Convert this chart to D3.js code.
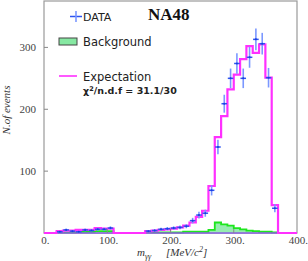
<!DOCTYPE html>
<html>
<head>
<meta charset="utf-8">
<script src="https://cdn.jsdelivr.net/npm/d3@7"></script>
<style>
  body { margin:0; background:#fff; }
  svg { display:block; }
</style>
</head>
<body>
<div id="chart"></div>
<script>
// m_gg spectrum, 10 MeV bins (bin lower edge)
var binStart   = [20,30,40,50,60,70,80,90,100,
                  160,170,180,190,200,210,220,230,240,250,260,270,280,290,300,310,320,330,340,350,360];
var dataCounts = [2,5,3,2,5,4,6,6,8,
                  3,4,6,7,8,9,11,20,29,32,69,139,209,250,274,250,284,313,306,251,40];
var dataErrors = [1.4,2.2,1.7,1.4,2.2,2,2.4,2.4,2.8,
                  1.7,2,2.4,2.6,2.8,3,3.3,4.5,5.4,5.7,8.3,11.8,14.5,15.8,16.6,15.8,16.9,17.7,17.5,15.8,6.3];
var expectation = [3,4,4,5,5,5,8,7,7,
                   3,4,5,6,7,9,12,17,26,36,76,155,189,232,256,281,302,291,305,251,45];
var background  = [1,1,1,2,2,2,3,3,3,
                   1,1,1,1,1,1,2,2,2,2,5,17,14,12,8,6,4,3,2,2,1];
var BIN_WIDTH = 10;

var xTicks = [0,100,200,300,400];
var yTicks = [100,200,300];

var W = 308, H = 261;
var svg = d3.select("#chart").append("svg").attr("width",W).attr("height",H);

var x = d3.scaleLinear().domain([0,400]).range([44,297]);
var y = d3.scaleLinear().domain([0,375]).range([233,1]);

var SERIF = "'Liberation Serif','DejaVu Serif',serif";
var SANS = "'DejaVu Sans',sans-serif";

// step points over the full range, zero in the gaps
function stepPoints(vals){
	var pts = [[0,0]];
	var _end = 0;
	binStart.forEach(function(s,i){
		if (s!=_end) pts.push([_end,0]);
		pts.push([s,vals[i]]);
		_end = s+BIN_WIDTH;
	});
	pts.push([_end,0]);
	pts.push([400,0]);
	return pts;
}

// frame
svg.append("rect")
	.attr("x",x(0)).attr("y",y(375))
	.attr("width",x(400)-x(0)).attr("height",y(0)-y(375))
	.style("fill","white").style("stroke","#9a9a9a").style("stroke-width",1.2);

// background histogram
var bgPts = stepPoints(background);
svg.append("path")
	.datum(bgPts)
	.attr("d",d3.area().curve(d3.curveStepAfter)
		.x(function(d){return x(d[0]);}).y0(y(0)).y1(function(d){return y(d[1]);}))
	.style("fill","#96ecb0");
svg.append("path")
	.datum(bgPts)
	.attr("d",d3.line().curve(d3.curveStepAfter)
		.x(function(d){return x(d[0]);}).y(function(d){return y(d[1]);}))
	.style("fill","none").style("stroke","#1ee61e").style("stroke-width",1.8);

// baseline
svg.append("line")
	.attr("x1",x(0)).attr("x2",x(400)).attr("y1",y(0)).attr("y2",y(0))
	.style("stroke","#8a5ce0").style("stroke-width",1.6);

// expectation
svg.append("path")
	.datum(stepPoints(expectation))
	.attr("d",d3.line().curve(d3.curveStepAfter)
		.x(function(d){return x(d[0]);}).y(function(d){return y(d[1]);}))
	.style("fill","none").style("stroke","#ff30ff").style("stroke-width",2.2);

// data crosses
var gData = svg.append("g").attr("id","data");
binStart.forEach(function(s,i){
	var _cx = x(s+BIN_WIDTH/2);
	var _cy = y(dataCounts[i]);
	gData.append("line")
		.attr("x1",_cx).attr("x2",_cx)
		.attr("y1",y(dataCounts[i]+dataErrors[i])).attr("y2",y(dataCounts[i]-dataErrors[i]))
		.style("stroke","#7b98ff").style("stroke-width",1.6);
	gData.append("line")
		.attr("x1",_cx-2.8).attr("x2",_cx+2.8).attr("y1",_cy).attr("y2",_cy)
		.style("stroke","#2f55f0").style("stroke-width",1.5);
	gData.append("circle")
		.attr("cx",_cx).attr("cy",_cy).attr("r",1)
		.style("fill","#1a3ee0");
});

// ticks (inward)
yTicks.forEach(function(t){
	svg.append("line")
		.attr("x1",x(0)).attr("x2",x(0)+4).attr("y1",y(t)).attr("y2",y(t))
		.style("stroke","#888").style("stroke-width",1);
	svg.append("text")
		.text(t)
		.attr("x",x(0)-8).attr("y",y(t)+4)
		.style("text-anchor","end")
		.style("font-family",SERIF).style("font-size","11px").style("fill","#444");
});
xTicks.forEach(function(t){
	if (t>0 && t<400){
		svg.append("line")
			.attr("x1",x(t)).attr("x2",x(t)).attr("y1",y(0)).attr("y2",y(0)-4)
			.style("stroke","#888").style("stroke-width",1);
	}
	svg.append("text")
		.text(t+".")
		.attr("x",x(t)+1.4).attr("y",244)
		.style("text-anchor","middle")
		.style("font-family",SERIF).style("font-size","11px").style("fill","#444");
});

// axis titles
svg.append("text")
	.text("N.of events")
	.attr("transform","translate(10,110) rotate(-90)")
	.style("text-anchor","middle")
	.style("font-family",SERIF).style("font-style","italic").style("font-size","11px").style("fill","#333");

var xLab = svg.append("text")
	.attr("x",137).attr("y",256)
	.style("font-family",SERIF).style("font-style","italic").style("font-size","11px").style("fill","#333");
xLab.append("tspan").text("m");
xLab.append("tspan").text("γγ").attr("dy",3).style("font-size","8px");
xLab.append("tspan").text("[MeV/c").attr("x",166).attr("dy",-3);
xLab.append("tspan").text("2").attr("dy",-4).style("font-size","8px");
xLab.append("tspan").text("]").attr("dy",4);

// title
svg.append("text")
	.text("NA48")
	.attr("x",148).attr("y",20)
	.style("font-family",SERIF).style("font-weight","bold").style("font-size","17px").style("fill","#111");

// legend
var LEG_X = 59, LEG_TX = 83;
var leg = svg.append("g").attr("id","legend");
leg.append("line").attr("x1",70).attr("x2",82).attr("y1",16.5).attr("y2",16.5)
	.style("stroke","#2f55f0").style("stroke-width",1.5);
leg.append("line").attr("x1",76).attr("x2",76).attr("y1",11).attr("y2",22)
	.style("stroke","#7b98ff").style("stroke-width",1.6);
leg.append("text").text("DATA").attr("x",LEG_TX).attr("y",21)
	.style("font-family",SANS).style("font-size","11px").style("fill","#222");

leg.append("rect").attr("x",LEG_X).attr("y",38).attr("width",18).attr("height",7)
	.style("fill","#86e8a2").style("stroke","#444").style("stroke-width",1);
leg.append("text").text("Background").attr("x",LEG_TX).attr("y",46)
	.style("font-family",SANS).style("font-size","11.5px").style("fill","#222");

leg.append("line").attr("x1",LEG_X).attr("x2",LEG_X+18).attr("y1",76).attr("y2",76)
	.style("stroke","#ff30ff").style("stroke-width",1.6);
leg.append("text").text("Expectation").attr("x",LEG_TX).attr("y",81)
	.style("font-family",SANS).style("font-size","11.5px").style("fill","#222");

var chi = leg.append("text").attr("x",LEG_TX).attr("y",94)
	.style("font-family",SANS).style("font-size","9.5px").style("font-weight","bold").style("fill","#222");
chi.append("tspan").text("χ");
chi.append("tspan").text("2").attr("dy",-3).style("font-size","6.5px");
chi.append("tspan").text("/n.d.f = 31.1/30").attr("dy",3);
</script>
</body>
</html>
